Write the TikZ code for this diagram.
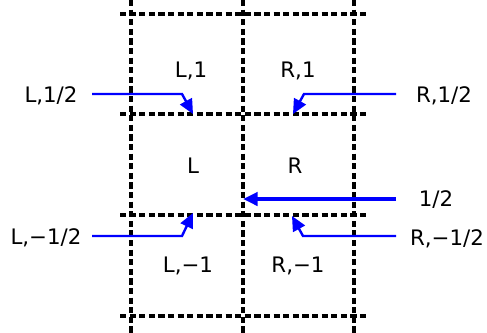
\documentclass[tikz,border=0pt]{standalone}
\usepackage{fontspec}
\setmainfont{DejaVu Sans}
\usetikzlibrary{arrows.meta}
\begin{document}
\begin{tikzpicture}[x=0.75pt,y=-0.75pt,
  grid/.style={draw=black,line width=2.4pt,dash pattern=on 4.6pt off 2.6pt},
  lab/.style={inner sep=0pt,font=\fontsize{16pt}{16pt}\selectfont,anchor=base},
  bluearrow/.style={draw=blue,line width=1.8pt,-{Triangle[length=11pt,width=10pt]}},
  bigarrow/.style={draw=blue,line width=2.6pt,-{Triangle[length=11pt,width=10pt]}}]
\useasboundingbox (0,0) rectangle (487,333);
% grid
\foreach \x/\n in {131/a,243/b,354/c} \draw[grid] (\x,0) coordinate (v\n t) -- (\x,333) coordinate (v\n b);
\foreach \y/\n in {14/a,114/b,215/c,316/d} \draw[grid] (120,\y) coordinate (h\n l) -- (368,\y) coordinate (h\n r);
% cell labels
\node[lab] (l1) at (191,77) {L,1};
\node[lab] (r1) at (298,77) {R,1};
\node[lab] (l0) at (193,173) {L};
\node[lab] (r0) at (295,173) {R};
\node[lab] (lm1) at (188,272) {L,−1};
\node[lab] (rm1) at (298,272) {R,−1};
% side labels
\node[lab] (lh) at (51,102) {L,1/2};
\node[lab] (rh) at (444,102) {R,1/2};
\node[lab] (half) at (436,206) {1/2};
\node[lab] (lmh) at (46,244) {L,−1/2};
\node[lab] (rmh) at (447,245) {R,−1/2};
% connector points
\coordinate (lhs) at (92,94);  \coordinate (lhb) at (182,94);  \coordinate (lht) at (193,114);
\coordinate (rhs) at (396,94); \coordinate (rhb) at (304,94);  \coordinate (rht) at (293,114);
\coordinate (lmhs) at (92,236); \coordinate (lmhb) at (182,236); \coordinate (lmht) at (193,213);
\coordinate (rmhs) at (396,236); \coordinate (rmhb) at (303,236); \coordinate (rmht) at (292,216);
\coordinate (hs) at (396,199); \coordinate (ht) at (243,199);
% arrows
\draw[bluearrow] (lhs) -- (lhb) -- (lht);
\draw[bluearrow] (rhs) -- (rhb) -- (rht);
\draw[bluearrow] (lmhs) -- (lmhb) -- (lmht);
\draw[bluearrow] (rmhs) -- (rmhb) -- (rmht);
\draw[bigarrow] (hs) -- (ht);
\end{tikzpicture}
\end{document}
